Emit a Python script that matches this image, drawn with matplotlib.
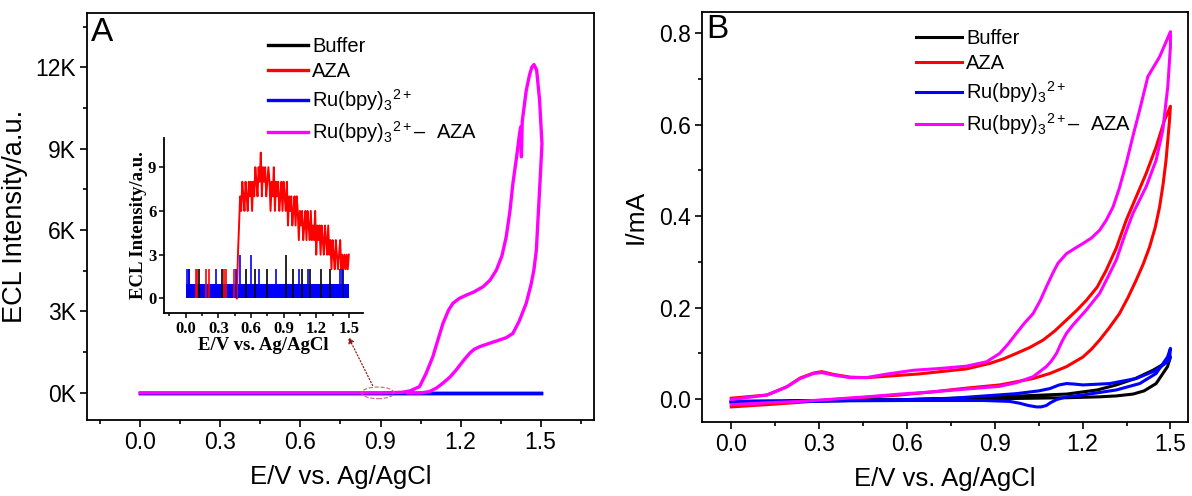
import numpy as np
import matplotlib
matplotlib.use("Agg")
import matplotlib.pyplot as plt
from matplotlib.patches import Ellipse
from matplotlib.ticker import MultipleLocator, FuncFormatter

plt.rcParams['font.family'] = ['Liberation Sans', 'DejaVu Sans']
plt.rcParams['mathtext.fontset'] = 'custom'
plt.rcParams['mathtext.rm'] = 'Liberation Sans'
plt.rcParams['mathtext.it'] = 'Liberation Sans:italic'

labels = ['Buffer', 'AZA', r'Ru(bpy)$_3$$^{2+}$', r'Ru(bpy)$_3$$^{2+}$–  AZA']
colors = ['black', '#ff0000', '#0000ff', '#ff00ff']

# ---- panel A: ECL-potential curves (intensity in K counts) ----
flat_x = [0.0, 1.5]
flat_y = [0.0, 0.0]

ecl_fwd_x = [0.00, 0.90, 0.98, 1.01, 1.046, 1.07, 1.096, 1.115, 1.134, 1.155, 1.171, 1.195,
             1.221, 1.25, 1.284, 1.31, 1.334, 1.355, 1.371, 1.385, 1.396, 1.41, 1.421, 1.425,
             1.428, 1.431, 1.446, 1.458, 1.467, 1.475, 1.485, 1.496, 1.505]
ecl_fwd_y = [0.0, 0.0, 0.02, 0.07, 0.23, 0.70, 1.33, 1.95, 2.56, 3.05, 3.30, 3.48,
             3.60, 3.72, 3.91, 4.15, 4.52, 5.05, 5.75, 6.7, 7.71, 8.7, 9.55, 9.8,
             8.7, 10.0, 11.14, 11.7, 12.0, 12.1, 11.9, 10.8, 9.18]
ecl_rev_x = [1.505, 1.500, 1.494, 1.484, 1.475, 1.465, 1.446, 1.42, 1.396, 1.37, 1.346,
             1.30, 1.271, 1.25, 1.234, 1.21, 1.184, 1.16, 1.134, 1.11, 1.084, 1.06, 1.046, 1.0]
ecl_rev_y = [9.18, 8.2, 7.1, 5.26, 4.55, 4.03, 3.30, 2.65, 2.19, 2.03, 1.95,
             1.80, 1.70, 1.60, 1.46, 1.18, 0.85, 0.58, 0.36, 0.18, 0.05, 0.01, 0.0, 0.0]

# ---- inset: low-level ECL counts ----
band_x = [0.0, 1.5]
band_lo = [0, 0]
band_hi = [1, 1]
aza_x = np.round(np.arange(0.47, 1.505, 0.01), 2)
aza_y = [0, 3, 5, 7, 6, 8, 7, 6, 8, 7,
         6, 8, 7, 8, 6, 8, 7, 9, 8, 7,
         9, 8, 10, 7, 9, 8, 9, 7, 8, 9,
         8, 6, 8, 7, 9, 6, 8, 7, 8, 6,
         7, 8, 6, 8, 7, 6, 8, 5, 7, 6,
         7, 5, 6, 7, 5, 7, 6, 4, 6, 5,
         6, 4, 5, 6, 4, 6, 5, 4, 6, 4,
         5, 4, 6, 3, 5, 4, 5, 3, 5, 4,
         3, 5, 4, 3, 5, 3, 4, 2, 4, 3,
         2, 4, 3, 2, 3, 4, 2, 3, 2, 3,
         2, 3, 2, 3]
red_spike_x = [0.09, 0.10, 0.19, 0.21, 0.35, 0.37, 0.44]
red_spike_h = [2, 2, 2, 2, 2, 2, 2]
black_spike_x = [0.03, 0.12, 0.33, 0.55, 0.64, 0.75, 0.92, 0.99, 1.07, 1.14, 1.24, 1.33, 1.45]
black_spike_h = [2, 2, 2, 2, 2, 2, 3, 2, 2, 2, 2, 2, 2]
blue_spike_x = [0.01, 0.03, 0.28, 0.46, 0.50, 0.60, 0.67, 0.83, 1.04, 1.12, 1.42, 1.44]
blue_spike_h = [2, 2, 2, 2, 3, 3, 2, 2, 2, 2, 2, 2]

# ---- panel B: cyclic voltammograms (mA) ----
buf_x = [0.0, 0.3, 0.6, 0.917, 1.145, 1.25, 1.315, 1.38, 1.44, 1.475, 1.5,
         1.49, 1.451, 1.41, 1.372, 1.315, 1.258, 1.145, 0.917, 0.6, 0.3, 0.0]
buf_y = [-0.007, -0.004, -0.001, 0.005, 0.011, 0.02, 0.031, 0.045, 0.063, 0.076, 0.092,
         0.071, 0.034, 0.018, 0.011, 0.007, 0.005, 0.003, 0.001, -0.001, -0.003, -0.005]

ru_x = [0.0, 0.3, 0.6, 0.747, 0.974, 1.05, 1.088, 1.12, 1.145, 1.17, 1.201, 1.292, 1.383,
        1.451, 1.497, 1.5, 1.49, 1.451, 1.395, 1.315, 1.201, 1.145, 1.111, 1.09, 1.076,
        1.058, 1.042, 1.015, 0.985, 0.951, 0.86, 0.6, 0.3, 0.0]
ru_y = [-0.007, -0.004, -0.001, 0.0015, 0.012, 0.018, 0.023, 0.031, 0.034, 0.033, 0.031,
        0.034, 0.045, 0.063, 0.085, 0.111, 0.092, 0.056, 0.034, 0.02, 0.009, 0.005, -0.001,
        -0.008, -0.014, -0.017, -0.017, -0.014, -0.009, -0.005, -0.003, -0.003, -0.004, -0.005]

aza_cv_x = [0.0, 0.122, 0.19, 0.235, 0.281, 0.309, 0.349, 0.406, 0.462, 0.531, 0.64, 0.803,
            0.883, 0.93, 0.974, 1.02, 1.065, 1.105, 1.145, 1.18, 1.213, 1.25, 1.281, 1.315,
            1.349, 1.383, 1.417, 1.451, 1.48, 1.5,
            1.497, 1.485, 1.475, 1.463, 1.448, 1.429, 1.407, 1.383, 1.355, 1.326, 1.29, 1.258,
            1.23, 1.201, 1.145, 1.088, 1.031,
            0.917, 0.803, 0.69, 0.576, 0.462, 0.349, 0.235, 0.122, 0.0]
aza_cv_y = [0.002, 0.009, 0.027, 0.046, 0.057, 0.060, 0.054, 0.048, 0.047, 0.050, 0.055, 0.066,
            0.078, 0.088, 0.100, 0.113, 0.129, 0.149, 0.173, 0.194, 0.216, 0.245, 0.282, 0.330,
            0.391, 0.442, 0.493, 0.551, 0.610, 0.640,
            0.610, 0.522, 0.47, 0.420, 0.375, 0.333, 0.295, 0.260, 0.222, 0.187, 0.155, 0.129,
            0.109, 0.092, 0.071, 0.056, 0.045,
            0.031, 0.024, 0.016, 0.009, 0.004, -0.001, -0.007, -0.012, -0.017]

mix_cv_x = [0.0, 0.122, 0.19, 0.235, 0.281, 0.309, 0.349, 0.406, 0.462, 0.531, 0.622, 0.713,
            0.803, 0.872, 0.917, 0.945, 0.974, 1.0, 1.031, 1.055, 1.076, 1.098, 1.116, 1.145,
            1.175, 1.201, 1.23, 1.258, 1.28, 1.304, 1.325, 1.349, 1.372,
            1.395, 1.423, 1.463, 1.5, 1.5, 1.491, 1.474, 1.451, 1.417, 1.372, 1.345, 1.315,
            1.285, 1.258, 1.213, 1.167, 1.145, 1.128, 1.111, 1.093, 1.076, 1.031, 0.974, 0.917,
            0.803, 0.69, 0.576, 0.462, 0.349, 0.235, 0.122, 0.0]
mix_cv_y = [-0.001, 0.009, 0.027, 0.045, 0.056, 0.058, 0.0525, 0.047, 0.047, 0.0547, 0.063, 0.067,
            0.072, 0.0816, 0.10, 0.12, 0.144, 0.165, 0.187, 0.215, 0.245, 0.275, 0.297, 0.318,
            0.330, 0.340, 0.352, 0.369, 0.39, 0.42, 0.46, 0.515, 0.575,
            0.632, 0.705, 0.748, 0.803, 0.77, 0.683, 0.588, 0.522, 0.464, 0.406, 0.36, 0.304,
            0.265, 0.231, 0.195, 0.162, 0.144, 0.124, 0.10, 0.083, 0.071, 0.049, 0.036, 0.028,
            0.022, 0.016, 0.011, 0.005, 0.0, -0.005, -0.008, -0.012]

fig = plt.figure(figsize=(11.92, 4.96), dpi=100)
axA = fig.add_axes([87/1192, 1-420/496, (594-87)/1192, (420-13)/496])
axB = fig.add_axes([702/1192, 1-422/496, (1188-702)/1192, (422-12)/496])


def style(ax):
    for s in ax.spines.values():
        s.set_linewidth(1.3)
    ax.tick_params(which='major', direction='out', length=5, width=1.2, labelsize=16.5, pad=3)
    ax.tick_params(which='minor', direction='out', length=3, width=1.2)


# panel A
lw = 2.4
axA.plot(flat_x, [v * 1000 for v in flat_y], color=colors[0], lw=lw, label=labels[0])
axA.plot(flat_x, [v * 1000 for v in flat_y], color=colors[1], lw=lw, label=labels[1])
axA.plot(flat_x, [v * 1000 for v in flat_y], color=colors[2], lw=lw, label=labels[2])
axA.plot(ecl_fwd_x + ecl_rev_x, [v * 1000 for v in ecl_fwd_y + ecl_rev_y],
         color=colors[3], lw=lw, label=labels[3], solid_joinstyle='round')
axA.set_xlim(-0.2, 1.7)
axA.set_ylim(-1000, 14000)
axA.xaxis.set_major_locator(MultipleLocator(0.3))
axA.xaxis.set_minor_locator(MultipleLocator(0.15))
axA.yaxis.set_major_locator(MultipleLocator(3000))
axA.yaxis.set_minor_locator(MultipleLocator(1500))
axA.xaxis.set_major_formatter(FuncFormatter(lambda v, p: f"{v:.1f}"))
axA.yaxis.set_major_formatter(FuncFormatter(lambda v, p: f"{v/1000:.0f}K"))
style(axA)
axA.set_xlabel("E/V vs. Ag/AgCl", fontsize=18.5, labelpad=8)
axA.set_ylabel("ECL Intensity/a.u.", fontsize=19.5, labelpad=5)
axA.text(0.008, 0.99, "A", transform=axA.transAxes, fontsize=24, va='top', ha='left')
axA.legend(loc='upper left', bbox_to_anchor=(268/1192, 1-37/496), bbox_transform=fig.transFigure,
           frameon=False, fontsize=14.5, handlelength=2.0, handletextpad=0.2,
           labelspacing=0.3, borderpad=0, borderaxespad=0)

axA.add_patch(Ellipse((0.89, 0), 0.12, 430, fill=False, ls='--', ec='#d0607a', lw=0.8, zorder=5))
axA.annotate("", xy=(0.775, 2150), xytext=(0.875, 180),
             arrowprops=dict(arrowstyle='-|>', ls=':', color='#8b1a1a', lw=0.9,
                             mutation_scale=9))

# inset
axI = fig.add_axes([164/1192, 1-313/496, (363-164)/1192, (313-138)/496])
axI.patch.set_alpha(0)
axI.fill_between(band_x, band_lo, band_hi, color=colors[0], lw=0)
axI.vlines(red_spike_x, 0, red_spike_h, color=colors[1], lw=1.2)
axI.vlines(black_spike_x, 0, black_spike_h, color=colors[0], lw=1.2)
axI.plot(aza_x, aza_y, color=colors[1], lw=1.4)
axI.fill_between(band_x, band_lo, band_hi, color=colors[2], lw=0)
axI.vlines(blue_spike_x, 0, blue_spike_h, color=colors[2], lw=1.2)
axI.set_xlim(-0.2, 1.63)
axI.set_ylim(-1, 11)
axI.spines['top'].set_visible(False)
axI.spines['right'].set_visible(False)
for s in ('left', 'bottom'):
    axI.spines[s].set_linewidth(1.3)
axI.xaxis.set_major_locator(MultipleLocator(0.3))
axI.xaxis.set_minor_locator(MultipleLocator(0.15))
axI.yaxis.set_major_locator(MultipleLocator(3))
axI.xaxis.set_major_formatter(FuncFormatter(lambda v, p: f"{v:.1f}"))
axI.tick_params(which='major', direction='out', length=3.5, width=1.1, pad=2)
axI.tick_params(which='minor', direction='out', length=2, width=1.1)
for lab in axI.get_xticklabels() + axI.get_yticklabels():
    lab.set_fontfamily('Liberation Serif')
    lab.set_fontweight('bold')
    lab.set_fontsize(12)
axI.set_xlabel("E/V vs. Ag/AgCl", fontfamily='Liberation Serif', fontweight='bold',
               fontsize=13.5, labelpad=0)
axI.set_ylabel("ECL Intensity/a.u.", fontfamily='Liberation Serif', fontweight='bold',
               fontsize=13.5, labelpad=1)

# panel B
lwb = 2.2
axB.plot(buf_x, buf_y, color=colors[0], lw=lwb, label=labels[0])
axB.plot(aza_cv_x, aza_cv_y, color=colors[1], lw=lwb, label=labels[1])
axB.plot(ru_x, ru_y, color=colors[2], lw=lwb, label=labels[2])
axB.plot(mix_cv_x, mix_cv_y, color=colors[3], lw=lwb, label=labels[3])
axB.set_xlim(-0.1, 1.56)
axB.set_ylim(-0.05, 0.846)
axB.xaxis.set_major_locator(MultipleLocator(0.3))
axB.xaxis.set_minor_locator(MultipleLocator(0.15))
axB.yaxis.set_major_locator(MultipleLocator(0.2))
axB.yaxis.set_minor_locator(MultipleLocator(0.1))
axB.xaxis.set_major_formatter(FuncFormatter(lambda v, p: f"{v:.1f}"))
axB.yaxis.set_major_formatter(FuncFormatter(lambda v, p: f"{v:.1f}"))
style(axB)
axB.set_xlabel("E/V vs. Ag/AgCl", fontsize=18.5, labelpad=8)
axB.set_ylabel("I/mA", fontsize=19, labelpad=8)
axB.text(0.008, 0.995, "B", transform=axB.transAxes, fontsize=24, va='top', ha='left')
axB.legend(loc='upper left', bbox_to_anchor=(916/1192, 1-29/496), bbox_transform=fig.transFigure,
           frameon=False, fontsize=14.5, handlelength=2.3, handletextpad=0.2,
           labelspacing=0.3, borderpad=0, borderaxespad=0)

fig.savefig("out.png", dpi=100)
